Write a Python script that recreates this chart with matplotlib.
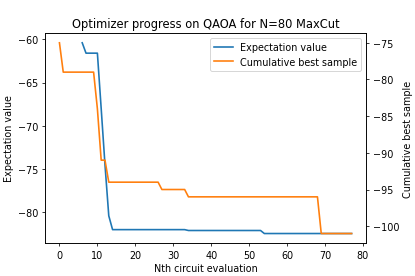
import numpy as np
import matplotlib
matplotlib.use('Agg')
import matplotlib.pyplot as plt

# 期望值 (左軸)
exp_x = list(range(6, 78))
exp_y = ([-60.4, -61.6, -61.6, -61.6, -61.6, -68.0, -74.5, -80.4]
         + [-82.0] * 20      # x = 14..33
         + [-82.1] * 20      # x = 34..53
         + [-82.45] * 24)    # x = 54..77

# 累積最佳樣本 (右軸)
best_x = list(range(0, 78))
best_y = ([-75, -79, -79, -79, -79, -79, -79, -79, -79, -79, -84, -91, -91]
          + [-94] * 14       # x = 13..26
          + [-95] * 7        # x = 27..33
          + [-96] * 35       # x = 34..68
          + [-101] * 9)      # x = 69..77

fig, ax = plt.subplots(figsize=(6, 4), dpi=69.2)
fig.subplots_adjust(left=0.108, right=0.882, top=0.877, bottom=0.119)

l1, = ax.plot(exp_x, exp_y, color='tab:blue', lw=1.7, label='Expectation value')
ax.set_xlabel('Nth circuit evaluation')
ax.set_ylabel('Expectation value')

ax2 = ax.twinx()
l2, = ax2.plot(best_x, best_y, color='tab:orange', lw=1.7, label='Cumulative best sample')
ax2.set_ylabel('Cumulative best sample')

ax.set_title('Optimizer progress on QAOA for N=80 MaxCut')
ax2.legend(handles=[l1, l2], loc='upper right')

fig.savefig('out.png')
